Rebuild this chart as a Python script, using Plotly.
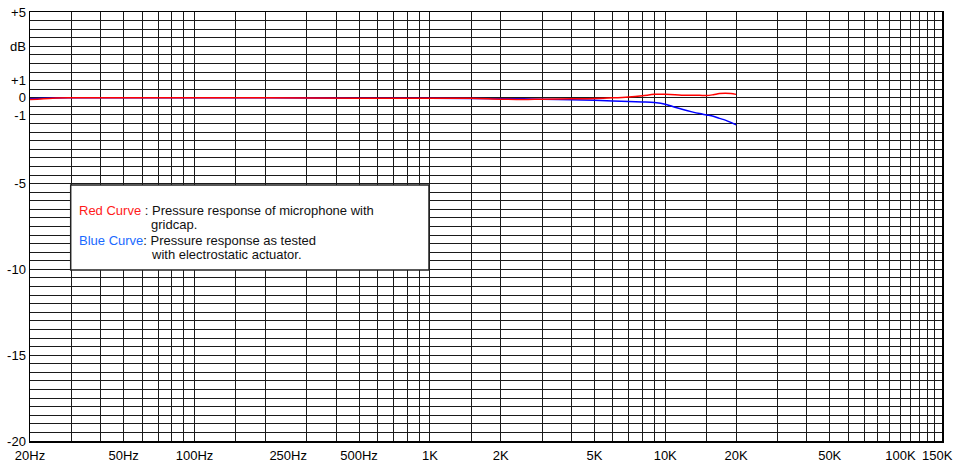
import plotly.graph_objects as go

# ---- data ----
freq_hz = [20, 25, 30, 50, 100, 200, 500, 1000, 1500, 2000, 2500, 3000, 4000, 5000,
           6000, 7000, 8000, 9000, 10000, 11000, 12000, 13000, 14000, 15000, 16000,
           17000, 18000, 19000, 20000]
red_db = [-0.1, -0.02, 0.0, 0.0, 0.0, 0.0, -0.02, -0.03, -0.03, -0.08, -0.1, -0.08,
          -0.06, -0.04, 0.0, 0.05, 0.12, 0.2, 0.2, 0.18, 0.15, 0.15, 0.15, 0.13, 0.18,
          0.25, 0.27, 0.25, 0.2]
blue_db = [-0.05, -0.01, 0.0, 0.0, 0.0, 0.0, -0.02, -0.03, -0.04, -0.05, -0.06, -0.08,
           -0.11, -0.14, -0.18, -0.21, -0.24, -0.28, -0.37, -0.55, -0.7, -0.82, -0.92,
           -1.0, -1.08, -1.2, -1.3, -1.43, -1.57]

x_tick_vals = [20, 50, 100, 250, 500, 1000, 2000, 5000, 10000, 20000, 50000, 100000]
x_tick_text = ["20Hz", "50Hz", "100Hz", "250Hz", "500Hz", "1K", "2K", "5K", "10K",
               "20K", "50K", "100K"]
x_last_label = "150K"
y_tick_vals = [5, 3, 1, 0, -1, -5, -10, -15, -20]
y_tick_text = ["+5", "dB", "+1", "0", "-1", "-5", "-10", "-15", "-20"]

# grid positions
x_grid = []
for dec in [10, 100, 1000, 10000]:
    for m in [1, 1.5, 2, 3, 4, 5, 6, 7, 8, 9]:
        v = m * dec
        if 20 <= v <= 150000:
            x_grid.append(v)
x_grid += [100000, 110000, 120000, 130000, 140000, 150000]
y_grid = [-20 + 0.5 * i for i in range(51)]

FONT = "Liberation Sans, Arial, sans-serif"

fig = go.Figure()
fig.add_trace(go.Scatter(x=freq_hz, y=blue_db, mode="lines",
                         line=dict(color="#0000ff", width=1.5, shape="spline"),
                         hoverinfo="skip"))
fig.add_trace(go.Scatter(x=freq_hz, y=red_db, mode="lines",
                         line=dict(color="#ff0000", width=1.5, shape="spline"),
                         hoverinfo="skip"))

fig.update_layout(
    width=955, height=465,
    margin=dict(l=30, r=13, t=12, b=24, autoexpand=False),
    paper_bgcolor="white", plot_bgcolor="white",
    showlegend=False,
    font=dict(family=FONT, size=13, color="black"),
    xaxis=dict(type="log", range=[1.301025, 5.176095], automargin=False,
               tickmode="array", tickvals=x_tick_vals, ticktext=x_tick_text,
               showgrid=False, zeroline=False, ticks="", ticklabelstandoff=2,
               ticklabeloverflow="allow",
               showline=True, mirror=True, linecolor="black", linewidth=1.5,
               tickfont=dict(family=FONT, size=13, color="black"),
               minor=dict(tickmode="array", tickvals=x_grid, showgrid=True,
                          gridcolor="#1a1a1a", gridwidth=1, ticks="")),
    yaxis=dict(range=[-20, 5], automargin=False,
               tickmode="array", tickvals=y_tick_vals, ticktext=y_tick_text,
               showgrid=False, zeroline=False, ticks="",
               showline=True, mirror=True, linecolor="black", linewidth=1.5,
               tickfont=dict(family=FONT, size=13, color="black"),
               minor=dict(tickmode="array", tickvals=y_grid, showgrid=True,
                          gridcolor="#1a1a1a", gridwidth=1, ticks="")),
)

# last x label (would overflow the page if centered on the edge)
fig.add_annotation(x=1.0, y=0, xref="paper", yref="paper", text=x_last_label,
                   showarrow=False, xanchor="center", yanchor="top", xshift=-5, yshift=-5,
                   font=dict(family=FONT, size=13, color="black"))

# legend box
fig.add_shape(type="rect", xref="paper", yref="paper",
              x0=(70.7 - 30) / 912, x1=(429 - 30) / 912,
              y0=(441 - 270) / 429, y1=(441 - 185) / 429,
              fillcolor="white", line=dict(color="#222222", width=1.5), layer="above")

def px_x(x):
    return (x - 30) / 912

def px_y(y):
    return (441 - y) / 429

ann = [
    (77, 210, "<span style='color:#ff1a1a'>Red Curve</span> : Pressure response of microphone with"),
    (148.5, 224.5, "gridcap."),
    (77, 240, "<span style='color:#1a6aff'>Blue Curve</span>: Pressure response as tested"),
    (148.5, 254.5, "with electrostatic actuator."),
]
for x, y, t in ann:
    fig.add_annotation(x=px_x(x), y=px_y(y), xref="paper", yref="paper",
                       text=t, showarrow=False, xanchor="left", yanchor="middle",
                       font=dict(family=FONT, size=13, color="#111111"))

fig.write_html("out.html", config={"displayModeBar": False, "staticPlot": True},
               post_script="document.body.style.margin='0';document.body.style.overflow='hidden';")
